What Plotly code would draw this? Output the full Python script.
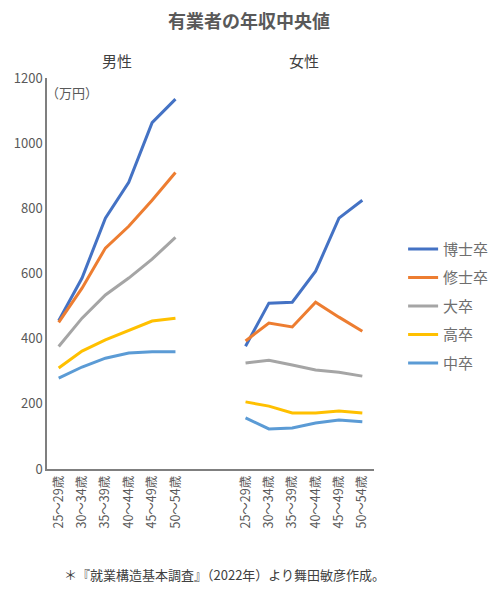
import plotly.graph_objects as go

# age groups (male block, 2 empty slots, female block)
ages = ["25～29歳", "30～34歳", "35～39歳", "40～44歳", "45～49歳", "50～54歳"]
series_names = ["博士卒", "修士卒", "大卒", "高卒", "中卒"]
colors = ["#4472C4", "#ED7D31", "#A5A5A5", "#FFC000", "#5B9BD5"]

# median annual income (万円)
male_phd = [455, 586, 770, 880, 1063, 1135]
male_master = [450, 555, 678, 745, 825, 910]
male_univ = [376, 463, 534, 586, 644, 711]
male_high = [310, 362, 396, 426, 454, 463]
male_junior = [279, 313, 340, 356, 360, 360]

female_phd = [377, 509, 512, 607, 770, 825]
female_master = [393, 448, 436, 512, 466, 423]
female_univ = [325, 334, 319, 304, 297, 285]
female_high = [206, 193, 172, 172, 178, 172]
female_junior = [157, 123, 126, 141, 150, 145]

male = [male_phd, male_master, male_univ, male_high, male_junior]
female = [female_phd, female_master, female_univ, female_high, female_junior]

x_pos = list(range(6)) + [6, 7] + list(range(8, 14))
tick_pos = list(range(6)) + list(range(8, 14))
tick_text = ages + ages

font_jp = "Noto Sans CJK JP"
grey = "#595959"

fig = go.Figure()
for name, col, m, f in zip(series_names, colors, male, female):
    fig.add_trace(go.Scatter(
        x=x_pos, y=m + [None, None] + f,
        mode="lines", name=name, legendgroup=name,
        line=dict(color=col, width=3),
        connectgaps=False,
    ))

# page body adds an 8px margin, so the figure is offset by 8px
fig.update_layout(
    width=498, height=575,
    margin=dict(l=39, r=121, t=70, b=114),
    plot_bgcolor="white", paper_bgcolor="white",
    font=dict(family=font_jp, color=grey, size=12),
    title=dict(text="<b>有業者の年収中央値</b>", x=241 / 498, xref="container",
               xanchor="center", y=0.977, yanchor="middle",
               font=dict(size=18, color=grey)),
    showlegend=True,
    legend=dict(x=1.089, y=0.604, xanchor="left", yanchor="top",
                font=dict(size=15, color="#6e6e6e"), tracegroupgap=6,
                itemwidth=30, bgcolor="rgba(0,0,0,0)"),
    xaxis=dict(range=[-0.5, 13.5], tickmode="array", tickvals=tick_pos,
               ticktext=tick_text, tickangle=-90, showgrid=False,
               showline=True, linecolor="#7f7f7f", linewidth=1.5,
               ticks="", tickfont=dict(size=12.5, color=grey), zeroline=False,
               automargin=False),
    yaxis=dict(range=[0, 1200], dtick=200, showgrid=False, showline=True,
               linecolor="#7f7f7f", linewidth=1.5, ticks="", zeroline=False,
               tickfont=dict(size=13, color=grey), automargin=False),
)

fig.add_annotation(text="男性", x=2.5, y=1.046, xref="x", yref="paper",
                   yanchor="middle", showarrow=False,
                   font=dict(size=15, color="#404040"))
fig.add_annotation(text="女性", x=10.5, y=1.046, xref="x", yref="paper",
                   yanchor="middle", showarrow=False,
                   font=dict(size=15, color="#404040"))
fig.add_annotation(text="（万円）", x=0.0, y=0.962, xref="paper", yref="paper",
                   xanchor="left", yanchor="middle", xshift=-3, showarrow=False,
                   font=dict(size=13, color=grey))
fig.add_annotation(text="＊『就業構造基本調査』（2022年）より舞田敏彦作成。",
                   x=0.0, y=-0.271, xref="paper", yref="paper", xanchor="left",
                   yanchor="middle", xshift=15, showarrow=False,
                   font=dict(size=13, color="#404040"))

fig.write_html("out.html")
